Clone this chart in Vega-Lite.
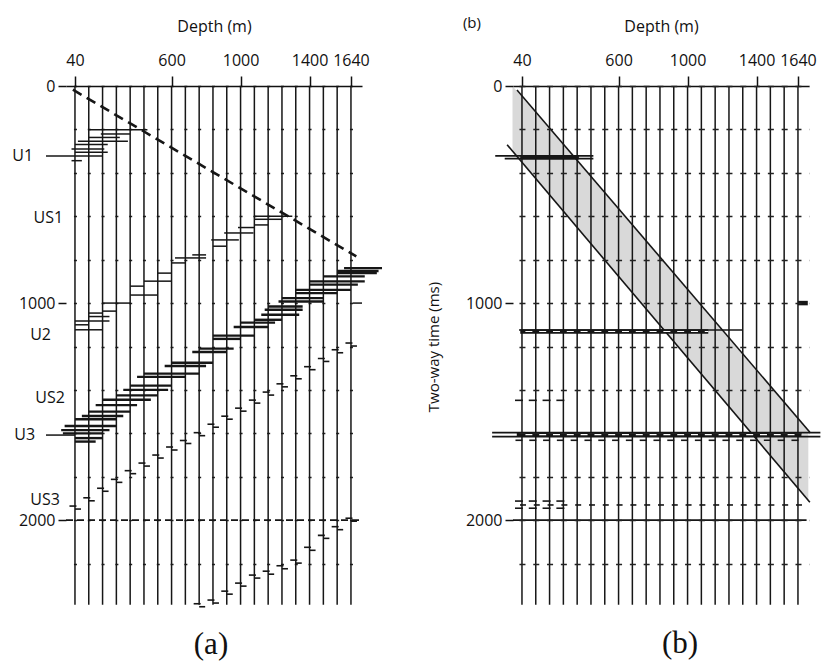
{
  "$schema": "https://vega.github.io/schema/vega-lite/v6.json",
  "background": "white",
  "padding": {"left": 12, "top": 16, "right": 2, "bottom": 2},
  "spacing": 42,
  "config": {
    "view": {"stroke": null},
    "axis": {"labelFont": "Open Sans", "titleFont": "Open Sans", "labelColor": "#111", "titleColor": "#111", "labelFontSize": 16, "titleFontSize": 16, "titleFontWeight": "normal", "tickColor": "#111", "domainColor": "#111"},
    "text": {"font": "Open Sans", "fontSize": 16, "color": "#111"},
    "tick": {"opacity": 1}
  },
  "datasets": {
    "traces": [
      {"d": 40, "t0": 0, "t1": 2390}, {"d": 120, "t0": 0, "t1": 2390}, {"d": 200, "t0": 0, "t1": 2390},
      {"d": 280, "t0": 0, "t1": 2390}, {"d": 360, "t0": 0, "t1": 2390}, {"d": 440, "t0": 0, "t1": 2390},
      {"d": 520, "t0": 0, "t1": 2390}, {"d": 600, "t0": 0, "t1": 2390}, {"d": 680, "t0": 0, "t1": 2390},
      {"d": 760, "t0": 0, "t1": 2390}, {"d": 840, "t0": 0, "t1": 2390}, {"d": 920, "t0": 0, "t1": 2390},
      {"d": 1000, "t0": 0, "t1": 2390}, {"d": 1080, "t0": 0, "t1": 2390}, {"d": 1160, "t0": 0, "t1": 2390},
      {"d": 1240, "t0": 0, "t1": 2390}, {"d": 1320, "t0": 0, "t1": 2390}, {"d": 1400, "t0": 0, "t1": 2390},
      {"d": 1480, "t0": 0, "t1": 2390}, {"d": 1560, "t0": 0, "t1": 2390}, {"d": 1640, "t0": 0, "t1": 2390}
    ],
    "direct": [{"d": 28, "t": 17}, {"d": 1671, "t": 785}],
    "segA": [
      {"d": 120, "d2": 460, "t": 201}, {"d": 190, "d2": 360, "t": 221}, {"d": 120, "d2": 300, "t": 237},
      {"d": 57, "d2": 347, "t": 254}, {"d": 40, "d2": 230, "t": 270}, {"d": 20, "d2": 210, "t": 290},
      {"d": 40, "d2": 230, "t": 305}, {"d": -128, "d2": 200, "t": 322}, {"d": 20, "d2": 80, "t": 344},
      {"d": 1080, "d2": 1300, "t": 600}, {"d": 1080, "d2": 1240, "t": 614}, {"d": 1080, "d2": 1160, "t": 640},
      {"d": 985, "d2": 1080, "t": 652}, {"d": 905, "d2": 1075, "t": 677}, {"d": 830, "d2": 990, "t": 709},
      {"d": 840, "d2": 920, "t": 738}, {"d": 720, "d2": 800, "t": 778}, {"d": 620, "d2": 800, "t": 792},
      {"d": 600, "d2": 680, "t": 815}, {"d": 520, "d2": 600, "t": 862}, {"d": 440, "d2": 600, "t": 899},
      {"d": 360, "d2": 440, "t": 922}, {"d": 360, "d2": 520, "t": 963}, {"d": 200, "d2": 360, "t": 1000},
      {"d": 200, "d2": 280, "t": 1037}, {"d": 120, "d2": 200, "t": 1046}, {"d": 120, "d2": 240, "t": 1062},
      {"d": 40, "d2": 240, "t": 1083}, {"d": 40, "d2": 120, "t": 1100}, {"d": 40, "d2": 200, "t": 1123},
      {"d": 1650, "d2": 1704, "t": 1000}, {"d": -128, "d2": 40, "t": 1608}
    ],
    "segC": [
      {"d": 1600, "d2": 1820, "t": 839}, {"d": 1560, "d2": 1800, "t": 852}, {"d": 1560, "d2": 1790, "t": 862},
      {"d": 1480, "d2": 1720, "t": 877}, {"d": 1400, "d2": 1720, "t": 900}, {"d": 1400, "d2": 1680, "t": 915},
      {"d": 1320, "d2": 1640, "t": 939}, {"d": 1320, "d2": 1560, "t": 954}, {"d": 1240, "d2": 1480, "t": 977},
      {"d": 1220, "d2": 1480, "t": 993}, {"d": 1160, "d2": 1360, "t": 1016}, {"d": 1140, "d2": 1360, "t": 1031},
      {"d": 1120, "d2": 1340, "t": 1054}, {"d": 1080, "d2": 1240, "t": 1077}, {"d": 1000, "d2": 1200, "t": 1090},
      {"d": 960, "d2": 1160, "t": 1110}, {"d": 840, "d2": 1080, "t": 1150}, {"d": 840, "d2": 1000, "t": 1165},
      {"d": 760, "d2": 960, "t": 1210}, {"d": 720, "d2": 920, "t": 1225}, {"d": 600, "d2": 840, "t": 1275},
      {"d": 560, "d2": 800, "t": 1290}, {"d": 440, "d2": 760, "t": 1325}, {"d": 400, "d2": 680, "t": 1340},
      {"d": 360, "d2": 600, "t": 1380}, {"d": 320, "d2": 580, "t": 1400}, {"d": 280, "d2": 520, "t": 1425},
      {"d": 200, "d2": 480, "t": 1445}, {"d": 160, "d2": 400, "t": 1470}, {"d": 120, "d2": 360, "t": 1500},
      {"d": 80, "d2": 320, "t": 1520}, {"d": 40, "d2": 280, "t": 1535}, {"d": -20, "d2": 280, "t": 1566},
      {"d": -40, "d2": 240, "t": 1585}, {"d": -30, "d2": 200, "t": 1600}, {"d": 40, "d2": 200, "t": 1622},
      {"d": 40, "d2": 160, "t": 1638}
    ],
    "squigA": [
      {"d": 1640, "t": 1184}, {"d": 1560, "t": 1215}, {"d": 1480, "t": 1255}, {"d": 1400, "t": 1293},
      {"d": 1320, "t": 1335}, {"d": 1240, "t": 1372}, {"d": 1160, "t": 1410}, {"d": 1080, "t": 1447},
      {"d": 1000, "t": 1484}, {"d": 920, "t": 1521}, {"d": 840, "t": 1558}, {"d": 760, "t": 1597},
      {"d": 680, "t": 1633}, {"d": 600, "t": 1663}, {"d": 520, "t": 1700}, {"d": 440, "t": 1737},
      {"d": 360, "t": 1772}, {"d": 280, "t": 1812}, {"d": 200, "t": 1853}, {"d": 120, "t": 1897},
      {"d": 40, "t": 1935},
      {"d": 1640, "t": 1991}, {"d": 1560, "t": 2030}, {"d": 1480, "t": 2070}, {"d": 1400, "t": 2125},
      {"d": 1320, "t": 2184}, {"d": 1240, "t": 2210}, {"d": 1160, "t": 2235}, {"d": 1080, "t": 2253},
      {"d": 1000, "t": 2290}, {"d": 920, "t": 2327}, {"d": 840, "t": 2368}, {"d": 760, "t": 2385}
    ],
    "labA": [
      {"lab": "U1", "d": -203, "t": 322}, {"lab": "US1", "d": -29, "t": 608}, {"lab": "U2", "d": -99, "t": 1147},
      {"lab": "US2", "d": -18, "t": 1438}, {"lab": "U3", "d": -191, "t": 1608}, {"lab": "US3", "d": -47, "t": 1908}
    ],
    "band": [{"d": -15, "top": 0, "bot": 300}, {"d": 1700, "top": 1587, "bot": 1909}],
    "edgeB": [{"d": 11, "t": 18, "d2": 1709, "t2": 1595}, {"d": -46, "t": 271, "d2": 1709, "t2": 1917}],
    "segB": [
      {"d": -115, "d2": 454, "t": 322}, {"d": -60, "d2": 454, "t": 335}, {"d": 23, "d2": 1318, "t": 1124},
      {"d": -133, "d2": 1770, "t": 1597}, {"d": -133, "d2": 1770, "t": 1615}, {"d": -12, "d2": 1690, "t": 2000}
    ],
    "thickB": [
      {"d": 30, "d2": 370, "t": 328}, {"d": 30, "d2": 1120, "t": 1131}, {"d": 10, "d2": 1660, "t": 1606},
      {"d": 1640, "d2": 1697, "t": 1000}
    ],
    "dashB": [{"d": 40, "d2": 1640, "t": 1606}, {"d": 40, "d2": 1120, "t": 1131}],
    "smallB": [
      {"d": 40, "t": 1448}, {"d": 120, "t": 1448}, {"d": 200, "t": 1448}, {"d": 280, "t": 1448},
      {"d": 40, "t": 1912}, {"d": 120, "t": 1912}, {"d": 200, "t": 1912}, {"d": 280, "t": 1912},
      {"d": 40, "t": 1945}, {"d": 120, "t": 1945}, {"d": 200, "t": 1945}, {"d": 280, "t": 1945}
    ],
    "labB": [{"lab": "(b)", "d": -250, "t": -290}]
  },
  "hconcat": [
    {
      "width": 296,
      "height": 521,
      "title": {"text": "(a)", "orient": "bottom", "frame": "group", "font": "Liberation Serif", "fontSize": 31, "fontWeight": "normal", "color": "#111", "offset": 22, "dx": -3},
      "layer": [
        {
          "data": {"name": "traces"},
          "mark": {"type": "rule", "color": "#161616", "strokeWidth": 1.5},
          "encoding": {
            "x": {"field": "d", "type": "quantitative", "scale": {"domain": [-12, 1704], "nice": false, "zero": false},
              "axis": {"orient": "top", "title": "Depth (m)", "values": [40, 600, 1000, 1400, 1640], "grid": false, "domainWidth": 1.5, "tickWidth": 1.5, "tickSize": 10, "labelPadding": 8, "titlePadding": 18, "format": "d"}},
            "y": {"field": "t0", "type": "quantitative", "scale": {"domain": [0, 2400], "reverse": true, "nice": false, "zero": false},
              "axis": {"title": null, "values": [0, 200, 400, 600, 800, 1000, 1200, 1400, 1600, 1800, 2000, 2200], "format": "d", "domain": false,
                "grid": true, "gridColor": "#222", "gridWidth": 1.3, "gridDash": [3, 10.8], "gridDashOffset": 6.33,
                "labelExpr": "datum.value % 1000 === 0 ? datum.label : ''",
                "tickOpacity": {"condition": {"test": "datum.value % 1000 !== 0", "value": 0}, "value": 1},
                "tickSize": 8, "tickWidth": 1.5, "labelPadding": 3}},
            "y2": {"field": "t1"}
          }
        },
        {
          "data": {"name": "direct"},
          "mark": {"type": "line", "color": "#161616", "strokeWidth": 2.6, "strokeDash": [10, 6]},
          "encoding": {"x": {"field": "d", "type": "quantitative"}, "y": {"field": "t", "type": "quantitative"}}
        },
        {
          "data": {"name": "segA"},
          "mark": {"type": "rule", "color": "#161616", "strokeWidth": 1.5},
          "encoding": {"x": {"field": "d", "type": "quantitative"}, "x2": {"field": "d2"}, "y": {"field": "t", "type": "quantitative"}}
        },
        {
          "data": {"name": "segC"},
          "mark": {"type": "rule", "color": "#161616", "strokeWidth": 2.4},
          "encoding": {"x": {"field": "d", "type": "quantitative"}, "x2": {"field": "d2"}, "y": {"field": "t", "type": "quantitative"}}
        },
        {
          "data": {"name": "squigA"},
          "mark": {"type": "tick", "orient": "horizontal", "color": "#161616", "size": 7, "thickness": 1.6, "xOffset": -2},
          "encoding": {"x": {"field": "d", "type": "quantitative"}, "y": {"field": "t", "type": "quantitative"}}
        },
        {
          "data": {"name": "squigA"},
          "mark": {"type": "tick", "orient": "horizontal", "color": "#161616", "size": 6, "thickness": 1.6, "xOffset": 3, "yOffset": 3},
          "encoding": {"x": {"field": "d", "type": "quantitative"}, "y": {"field": "t", "type": "quantitative"}}
        },
        {
          "data": {"values": [{"d": -12, "d2": 1704, "t": 2000}]},
          "mark": {"type": "rule", "color": "#161616", "strokeWidth": 1.8, "strokeDash": [7, 4]},
          "encoding": {"x": {"field": "d", "type": "quantitative"}, "x2": {"field": "d2"}, "y": {"field": "t", "type": "quantitative"}}
        },
        {
          "data": {"name": "labA"},
          "mark": {"type": "text", "align": "right", "baseline": "middle"},
          "encoding": {"x": {"field": "d", "type": "quantitative"}, "y": {"field": "t", "type": "quantitative"}, "text": {"field": "lab"}}
        }
      ]
    },
    {
      "width": 296,
      "height": 521,
      "title": {"text": "(b)", "orient": "bottom", "frame": "group", "font": "Liberation Serif", "fontSize": 31, "fontWeight": "normal", "color": "#111", "offset": 22, "dx": 19},
      "layer": [
        {
          "data": {"name": "band"},
          "mark": {"type": "area", "color": "#d2d2d2", "opacity": 0.85},
          "encoding": {
            "x": {"field": "d", "type": "quantitative", "scale": {"domain": [-12, 1704], "nice": false, "zero": false},
              "axis": {"orient": "top", "title": "Depth (m)", "values": [40, 600, 1000, 1400, 1640], "grid": false, "domainWidth": 1.5, "tickWidth": 1.5, "tickSize": 10, "labelPadding": 8, "titlePadding": 18, "format": "d"}},
            "y": {"field": "top", "type": "quantitative", "scale": {"domain": [0, 2400], "reverse": true, "nice": false, "zero": false},
              "axis": {"title": "Two-way time (ms)", "titleFontSize": 15, "titlePadding": 24, "values": [0, 200, 400, 600, 800, 1000, 1200, 1400, 1600, 1800, 2000, 2200], "format": "d", "domain": false, "zindex": 1,
                "grid": true, "gridColor": "#222", "gridWidth": 1.3, "gridDash": [6, 7.8], "gridDashOffset": 7.83,
                "labelExpr": "datum.value % 1000 === 0 ? datum.label : ''",
                "tickOpacity": {"condition": {"test": "datum.value % 1000 !== 0", "value": 0}, "value": 1},
                "tickSize": 8, "tickWidth": 1.5, "labelPadding": 3}},
            "y2": {"field": "bot"}
          }
        },
        {
          "data": {"name": "edgeB"},
          "mark": {"type": "rule", "color": "#161616", "strokeWidth": 1.6},
          "encoding": {"x": {"field": "d", "type": "quantitative"}, "x2": {"field": "d2"}, "y": {"field": "t", "type": "quantitative"}, "y2": {"field": "t2"}}
        },
        {
          "data": {"name": "traces"},
          "mark": {"type": "rule", "color": "#161616", "strokeWidth": 1.5},
          "encoding": {"x": {"field": "d", "type": "quantitative"}, "y": {"field": "t0", "type": "quantitative"}, "y2": {"field": "t1"}}
        },
        {
          "data": {"name": "segB"},
          "mark": {"type": "rule", "color": "#161616", "strokeWidth": 1.7},
          "encoding": {"x": {"field": "d", "type": "quantitative"}, "x2": {"field": "d2"}, "y": {"field": "t", "type": "quantitative"}}
        },
        {
          "data": {"name": "thickB"},
          "mark": {"type": "rule", "color": "#161616", "strokeWidth": 4.5},
          "encoding": {"x": {"field": "d", "type": "quantitative"}, "x2": {"field": "d2"}, "y": {"field": "t", "type": "quantitative"}}
        },
        {
          "data": {"name": "dashB"},
          "mark": {"type": "rule", "color": "white", "strokeWidth": 1.2, "strokeDash": [7, 6.8], "strokeDashOffset": 10.4},
          "encoding": {"x": {"field": "d", "type": "quantitative"}, "x2": {"field": "d2"}, "y": {"field": "t", "type": "quantitative"}}
        },
        {
          "data": {"name": "traces"},
          "mark": {"type": "tick", "orient": "horizontal", "color": "#161616", "size": 7, "thickness": 1.6, "xOffset": -3},
          "encoding": {"x": {"field": "d", "type": "quantitative"}, "y": {"datum": 1632, "type": "quantitative"}}
        },
        {
          "data": {"name": "traces"},
          "mark": {"type": "tick", "orient": "horizontal", "color": "#161616", "size": 6, "thickness": 1.6, "xOffset": 1},
          "encoding": {"x": {"field": "d", "type": "quantitative"}, "y": {"datum": 1930, "type": "quantitative"}}
        },
        {
          "data": {"name": "smallB"},
          "mark": {"type": "tick", "orient": "horizontal", "color": "#161616", "size": 8, "thickness": 1.6, "xOffset": -3},
          "encoding": {"x": {"field": "d", "type": "quantitative"}, "y": {"field": "t", "type": "quantitative"}}
        },
        {
          "data": {"name": "labB"},
          "mark": {"type": "text", "align": "center", "baseline": "middle", "fontSize": 15},
          "encoding": {"x": {"field": "d", "type": "quantitative"}, "y": {"field": "t", "type": "quantitative"}, "text": {"field": "lab"}}
        }
      ]
    }
  ]
}
